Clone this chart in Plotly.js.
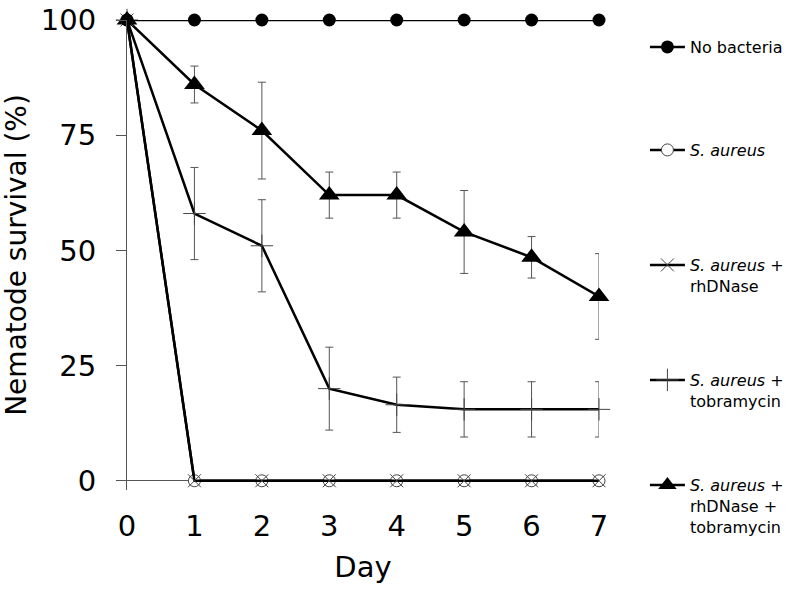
<!DOCTYPE html>
<html>
<head>
<meta charset="utf-8">
<script src="https://cdn.plot.ly/plotly-3.0.1.min.js"></script>
<style>html,body{margin:0;padding:0;background:#fff;}#chart{width:800px;height:593px;}</style>
</head>
<body>
<div id="chart"></div>
<script>
const days = [0, 1, 2, 3, 4, 5, 6, 7];
const dayTicks = ['0', '1', '2', '3', '4', '5', '6', '7'];
const yTicks = [0, 25, 50, 75, 100];
const noBacteria = [100, 100, 100, 100, 100, 100, 100, 100];
const sAureus = [100, 0, 0, 0, 0, 0, 0, 0];
const sAureusDNase = [100, 0, 0, 0, 0, 0, 0, 0];
const sAureusTobra = [100, 58, 51, 20, 16.5, 15.5, 15.5, 15.5];
const sAureusTobraErr = [0, 10, 10, 9, 6, 6, 6, 6];
const sAureusBoth = [100, 86, 76, 62, 62, 54, 48.5, 40];
const sAureusBothErr = [0, 4, 10.5, 5, 5, 9, 4.5, 9.3];
const names = [
  'No bacteria',
  '<i>S. aureus</i>',
  '<i>S. aureus</i> +<br>rhDNase',
  '<i>S. aureus</i> +<br>tobramycin',
  '<i>S. aureus</i> +<br>rhDNase +<br>tobramycin'
];

const FONT = 'DejaVu Sans, Verdana, sans-serif';
const lineStyle = {color: '#000', width: 2.5};
const errStyle = (arr) => ({type: 'data', array: arr, visible: true, color: '#555', thickness: 1, width: 4});

const traces = [
  {x: days, y: sAureusTobra, name: names[3], legend: 'legend4', mode: 'lines+markers', line: lineStyle,
   error_y: errStyle(sAureusTobraErr),
   marker: {symbol: 'cross-thin', size: 16, color: '#444', line: {color: '#444', width: 1}}},
  {x: days, y: sAureusBoth, name: names[4], legend: 'legend5', mode: 'lines+markers', line: lineStyle,
   error_y: errStyle(sAureusBothErr),
   marker: {symbol: 'triangle-up', size: 18, color: '#000'}},
  {x: days, y: sAureus, name: names[1], legend: 'legend2', mode: 'lines+markers', line: lineStyle,
   marker: {symbol: 'circle', size: 12, color: '#fff', line: {color: '#444', width: 1}}},
  {x: days, y: sAureusDNase, name: names[2], legend: 'legend3', mode: 'lines+markers', line: lineStyle,
   marker: {symbol: 'x-thin', size: 13, color: '#444', line: {color: '#444', width: 1}}},
  {x: days, y: noBacteria, name: names[0], legend: 'legend', mode: 'lines+markers', line: lineStyle,
   marker: {symbol: 'circle', size: 13, color: '#000'}}
];
traces.forEach(t => { t.cliponaxis = false; });

const legBase = (y) => ({
  x: 1.095, xanchor: 'left', y: y, yanchor: 'top', valign: 'top',
  itemwidth: 35,
  bgcolor: 'rgba(0,0,0,0)', borderwidth: 0,
  font: {family: FONT, size: 16, color: '#000'}
});
const py = (px) => (490 - px) / 470;

const layout = {
  width: 800, height: 593,
  margin: {l: 127, r: 200, t: 20, b: 103},
  paper_bgcolor: '#fff', plot_bgcolor: '#fff',
  font: {family: FONT, color: '#000'},
  showlegend: true,
  legend: legBase(py(30)),
  legend2: legBase(py(133)),
  legend3: legBase(py(248)),
  legend4: legBase(py(363)),
  legend5: legBase(py(468)),
  xaxis: {
    range: [0, 7], tickvals: days, ticktext: dayTicks,
    showline: false, showgrid: false, zeroline: false, ticks: '',
    ticklabelstandoff: 16,
    tickfont: {family: FONT, size: 29, color: '#000'},
    title: {text: 'Day', font: {family: FONT, size: 29, color: '#000'}, standoff: 14}
  },
  yaxis: {
    range: [-2, 100], tickvals: yTicks,
    showline: true, linecolor: '#555', linewidth: 1,
    showgrid: false, zeroline: true, zerolinecolor: '#555', zerolinewidth: 1,
    ticks: 'outside', ticklen: 10, tickcolor: '#555', tickwidth: 1,
    ticklabelstandoff: 14,
    tickfont: {family: FONT, size: 29, color: '#000'},
    title: {text: 'Nematode survival (%)', font: {family: FONT, size: 28, color: '#000'}, standoff: 10}
  }
};

Plotly.newPlot('chart', traces, layout, {displayModeBar: false, staticPlot: true});
</script>
</body>
</html>
